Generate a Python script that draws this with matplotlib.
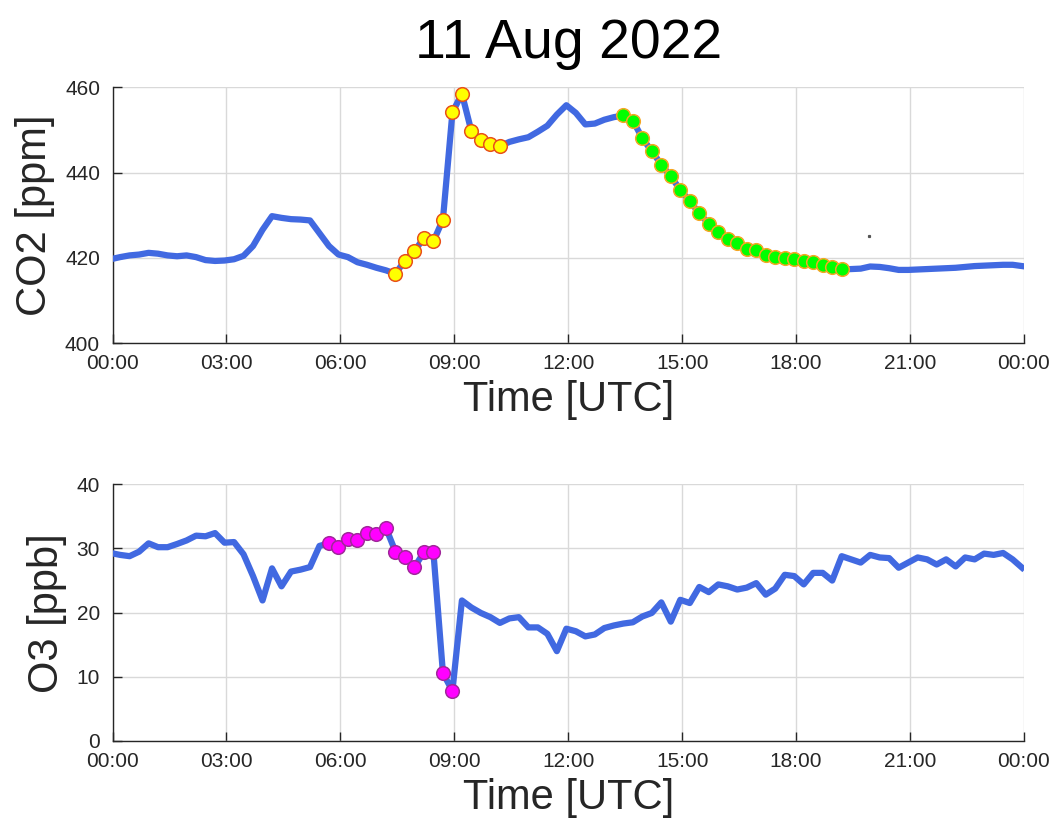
import numpy as np
import matplotlib
matplotlib.use("Agg")
import matplotlib.pyplot as plt

plt.rcParams['font.family'] = ['Liberation Sans', 'DejaVu Sans']

# ---------------- data ----------------
title = "11 Aug 2022"
# 15-minute samples, times in hours UTC
time_h = np.arange(97) * 0.25 - 0.05

co2_ppm = [
    419.7, 420.2, 420.6, 420.8, 421.2, 421.0, 420.6, 420.4, 420.6, 420.2,
    419.5, 419.3, 419.4, 419.7, 420.5, 422.8, 426.6, 429.8, 429.4, 429.1,
    429.0, 428.8, 425.8, 422.8, 420.8, 420.2, 419.0, 418.4, 417.7, 417.1,
    416.3, 419.4, 421.6, 424.7, 423.9, 429.0, 454.1, 458.5, 449.7, 447.7,
    446.6, 446.2, 447.2, 447.8, 448.3, 449.6, 451.0, 453.6, 455.8, 454.0,
    451.3, 451.5, 452.4, 453.0, 453.4, 452.2, 448.1, 445.0, 441.9, 439.1,
    436.0, 433.3, 430.5, 428.0, 426.0, 424.5, 423.4, 422.1, 421.8, 420.8,
    420.2, 420.0, 419.8, 419.2, 419.0, 418.4, 417.9, 417.3, 417.4, 417.5,
    418.0, 417.9, 417.6, 417.2, 417.2, 417.3, 417.4, 417.5, 417.6, 417.7,
    417.9, 418.1, 418.2, 418.3, 418.4, 418.4, 418.1,
]

o3_ppb = [
    29.3, 29.0, 28.8, 29.5, 30.8, 30.2, 30.2, 30.7, 31.25, 32.0,
    31.9, 32.4, 30.9, 31.0, 29.1, 25.7, 21.9, 26.9, 24.1, 26.4,
    26.7, 27.1, 30.4, 30.8, 30.3, 31.4, 31.25, 32.4, 32.2, 33.2,
    29.5, 28.6, 27.1, 29.4, 29.4, 10.6, 7.8, 21.9, 20.8, 19.95,
    19.3, 18.4, 19.1, 19.3, 17.7, 17.7, 16.7, 14.0, 17.5, 17.1,
    16.3, 16.6, 17.6, 18.0, 18.3, 18.5, 19.4, 19.95, 21.6, 18.6,
    22.0, 21.5, 24.0, 23.2, 24.4, 24.1, 23.6, 23.9, 24.6, 22.8,
    23.75, 25.9, 25.7, 24.4, 26.2, 26.2, 25.0, 28.8, 28.3, 27.8,
    29.0, 28.6, 28.5, 27.0, 27.8, 28.6, 28.3, 27.5, 28.3, 27.2,
    28.6, 28.3, 29.2, 29.0, 29.3, 28.3, 27.0,
]

# highlighted sample index ranges (start, stop) into the series above
co2_yellow_idx = (30, 42)
co2_green_idx = (54, 78)
o3_magenta_idx = (23, 37)

# isolated stray point in CO2 panel
stray_time = [19.92]
stray_co2 = [425.2]

xtick_hours = [0, 3, 6, 9, 12, 15, 18, 21, 24]
xtick_labels = ["00:00", "03:00", "06:00", "09:00", "12:00",
                "15:00", "18:00", "21:00", "00:00"]
co2_yticks = [400, 420, 440, 460]
o3_yticks = [0, 10, 20, 30, 40]

# ---------------- figure ----------------
W, H = 1054, 834
fig = plt.figure(figsize=(W / 100, H / 100), dpi=100)

def px_axes(left, top, right, bottom):
    return fig.add_axes([left / W, 1 - bottom / H, (right - left) / W, (bottom - top) / H])

ax1 = px_axes(112.5, 87.3, 1024, 343.3)
ax2 = px_axes(112.5, 484.3, 1024, 741)

line_col = '#4169E1'
txt_col = '#262626'

t = np.asarray(time_h)
co2 = np.asarray(co2_ppm)
o3 = np.asarray(o3_ppb)

ms = 9.8
ax1.plot(t, co2, color=line_col, lw=4.5, solid_joinstyle='round', zorder=3)
s, e = co2_yellow_idx
ax1.plot(t[s:e], co2[s:e], ls='none', marker='o', ms=ms, mfc='#FFFF00',
         mec='#E8501A', mew=1.1, zorder=4, clip_on=False)
s, e = co2_green_idx
ax1.plot(t[s:e], co2[s:e], ls='none', marker='o', ms=ms, mfc='#00FF00',
         mec='#F5A623', mew=1.1, zorder=4, clip_on=False)
ax1.plot(stray_time, stray_co2, ls='none', marker='s', ms=1.3, color='#555555', zorder=4)

ax2.plot(t, o3, color=line_col, lw=4.5, solid_joinstyle='round', zorder=3)
s, e = o3_magenta_idx
ax2.plot(t[s:e], o3[s:e], ls='none', marker='o', ms=ms, mfc='#FF00FF',
         mec='#A0289A', mew=1.1, zorder=4, clip_on=False)

for ax, yt, ylabel in ((ax1, co2_yticks, 'CO2 [ppm]'), (ax2, o3_yticks, 'O3 [ppb]')):
    ax.set_xlim(xtick_hours[0], xtick_hours[-1])
    ax.set_ylim(yt[0], yt[-1])
    ax.set_xticks(xtick_hours)
    ax.set_xticklabels(xtick_labels)
    ax.set_yticks(yt)
    ax.grid(True, color='#d9d9d9', lw=1.0)
    ax.set_axisbelow(True)
    for sp in ('top', 'right'):
        ax.spines[sp].set_visible(False)
    for sp in ('left', 'bottom'):
        ax.spines[sp].set_color(txt_col)
        ax.spines[sp].set_linewidth(1.0)
    ax.tick_params(direction='in', length=6.5, width=1.0, colors=txt_col,
                   labelsize=15, pad=8)
    ax.tick_params(axis='y', pad=9)
    ax.set_xlabel('Time [UTC]', fontsize=30, color=txt_col, labelpad=5)
    ax.set_ylabel(ylabel, fontsize=30, color=txt_col, labelpad=7)

ax1.set_title(title, fontsize=40, color='black', pad=21)

fig.savefig('out.png', dpi=100, facecolor='white')
